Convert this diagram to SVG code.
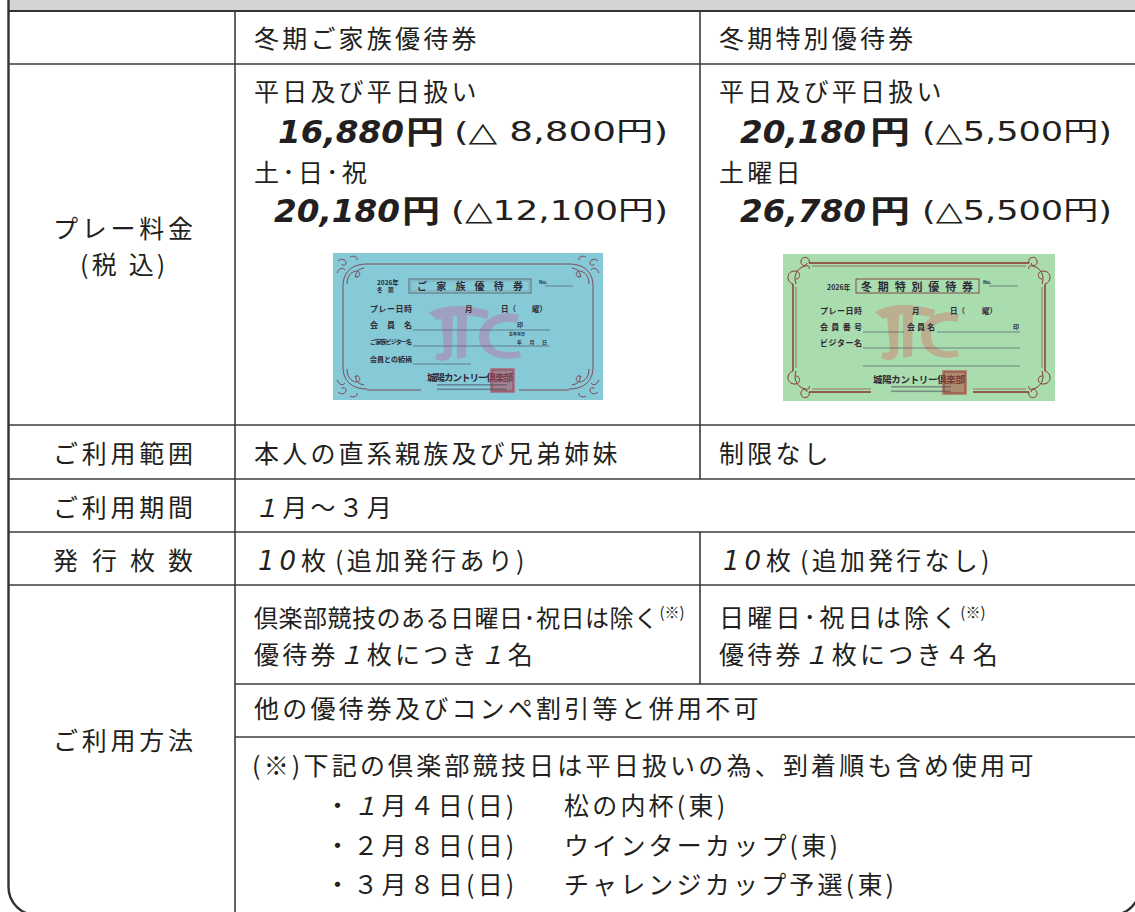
<svg xmlns="http://www.w3.org/2000/svg" width="1135" height="912" viewBox="0 0 1135 912">
<style>
.ln{stroke:#3c3c3c;stroke-width:1.6;fill:none}
.t{font-family:"Noto Sans CJK JP","Noto Sans CJK SC",sans-serif;font-size:25px;letter-spacing:3.2px;fill:#231f20}
.lab{font-family:"Noto Sans CJK JP","Noto Sans CJK SC",sans-serif;font-size:25px;letter-spacing:3.75px;fill:#231f20}
.big{font-family:"DejaVu Sans",sans-serif;font-weight:bold;font-style:oblique;font-size:32px;fill:#231f20}
.yen{font-family:"Noto Sans CJK JP",sans-serif;font-weight:bold;font-size:31px;fill:#231f20}
.par{font-family:"DejaVu Sans","Noto Sans CJK JP",sans-serif;font-size:27px;fill:#231f20}
.sup{font-size:15px;letter-spacing:0}
.it{font-style:italic}
.dg{font-family:"DejaVu Sans",sans-serif;font-style:oblique;font-size:26px;letter-spacing:5px}
.gap{letter-spacing:9px}
.tight{font-size:24px;letter-spacing:0.5px}
.c{font-family:"Noto Sans CJK JP","Noto Sans CJK SC",sans-serif;font-weight:bold;fill:#2e2a35}
.ul{stroke:#4a4a55;stroke-width:0.6;fill:none}
.ob{stroke:#7d3a48;stroke-width:0.9;fill:none}
.og{stroke:#8a3428;stroke-width:1;fill:none}
</style>
<defs>
<g id="ornB">
<path d="M10 33 C10 20 18 11 34 11"/>
<path d="M14 31 c0 -8 4 -12 9 -13 c4 0 5 4 2 6 c-2 1 -4 -1 -2 -2"/>
<path d="M31 15 c-6 1 -9 5 -8 9"/>
<path d="M5 8 c3 -3 8 -2 8 2 c0 3 -4 3 -4 1"/>
<path d="M4 20 c2 -5 6 -6 8 -3 M17 4 c4 -2 8 0 7 3"/>
</g>
<g id="ornG">
<path d="M10 30 C3 28 3 17 12 17 C18 17 18 25 13 25"/>
<path d="M26 9 C28 3 19 1 18 7 C17 12 24 13 24 9"/>
<path d="M13 30 C10 22 14 14 22 12 C26 11 27 13 26 15"/>
</g>
</defs>

<g id="frame">
<path d="M8.5 -30 H1140 V11 H8.5 Z" fill="#d4d4d6"/>
<rect x="8.5" y="-30" width="1131.5" height="945" rx="28" fill="none" stroke="#333" stroke-width="2.4"/>
<path d="M8.5 11 H1140" stroke="#333" stroke-width="2"/>
</g>

<g id="connectors">
<path class="ln" d="M8.5 64 H1136 M8.5 425 H1136 M8.5 479 H1136 M8.5 532 H1136 M8.5 585 H1136 M235 684 H1136 M235 737 H1136"/>
<path class="ln" d="M235 11 V912 M700 11 V479 M700 532 V684"/>
</g>

<g id="header">
<text class="t" x="254" y="47.5">冬期ご家族優待券</text>
<text class="t" x="719" y="47.5">冬期特別優待券</text>
</g>

<g id="row-price-label">
<text class="lab" x="53" y="238">プレー料金</text>
<text class="t" x="80" y="274">(税 込)</text>
</g>

<g id="price-family">
<text class="t" x="254" y="100.5">平日及び平日扱い</text>
<text class="big" x="278" y="143" textLength="126" lengthAdjust="spacingAndGlyphs">16,880</text>
<text class="yen" x="406" y="143" textLength="38" lengthAdjust="spacingAndGlyphs">円</text>
<text class="par" x="454" y="141" textLength="214" lengthAdjust="spacingAndGlyphs">(△  8,800円)</text>
<text class="t" x="254" y="182">土･日･祝</text>
<text class="big" x="274" y="222" textLength="126" lengthAdjust="spacingAndGlyphs">20,180</text>
<text class="yen" x="402" y="222" textLength="38" lengthAdjust="spacingAndGlyphs">円</text>
<text class="par" x="451" y="220" textLength="217" lengthAdjust="spacingAndGlyphs">(△12,100円)</text>
</g>

<g id="price-special">
<text class="t" x="719" y="100.5">平日及び平日扱い</text>
<text class="big" x="740" y="143" textLength="126" lengthAdjust="spacingAndGlyphs">20,180</text>
<text class="yen" x="870" y="143" textLength="40" lengthAdjust="spacingAndGlyphs">円</text>
<text class="par" x="922" y="141" textLength="190" lengthAdjust="spacingAndGlyphs">(△5,500円)</text>
<text class="t" x="719" y="182">土曜日</text>
<text class="big" x="740" y="222" textLength="126" lengthAdjust="spacingAndGlyphs">26,780</text>
<text class="yen" x="870" y="222" textLength="40" lengthAdjust="spacingAndGlyphs">円</text>
<text class="par" x="922" y="220" textLength="190" lengthAdjust="spacingAndGlyphs">(△5,500円)</text>
</g>

<g id="card-blue" transform="translate(333,253)">
<rect width="270" height="147" fill="#86c9d7"/>
<g fill="#a596bd" opacity="0.8">
<path d="M96 60 C112 50 138 52 156 58 L154 66 C138 61 118 61 104 67 Z"/>
<path d="M108 64 L120 62 L119 100 C118 108 110 110 102 106 L104 100 C109 102 111 100 111 96 Z"/>
<path d="M124 62 L134 61 L133 104 L124 106 Z"/>
<path d="M186 62 C168 56 146 66 146 84 C146 100 166 110 188 104 L186 98 C170 102 156 96 156 84 C156 72 170 66 184 70 Z"/>
</g>
<g class="ob">
<path d="M34 11 H236 M34 137 H88 M186 137 H236 M10 33 V114 M260 33 V114"/>
<use href="#ornB"/>
<use href="#ornB" transform="translate(270,0) scale(-1,1)"/>
<use href="#ornB" transform="translate(0,147) scale(1,-1)"/>
<use href="#ornB" transform="translate(270,147) scale(-1,-1)"/>
</g>
<text class="c" x="44" y="32" font-size="6.5">2026年</text>
<text class="c" x="44" y="38.5" font-size="5.5">冬　期</text>
<rect x="76" y="26" width="122" height="14" fill="none" stroke="#555" stroke-width="0.8"/>
<rect x="78" y="28" width="118" height="10" fill="none" stroke="#777" stroke-width="0.4"/>
<text class="c" x="84" y="37" font-size="10" textLength="106">ご 家 族 優 待 券</text>
<text class="c" x="206" y="31" font-size="5">No.</text>
<path class="ul" d="M212 33 H240"/>
<text class="c" x="37" y="59" font-size="8" textLength="42">プレー日時</text>
<text class="c" x="132" y="59" font-size="7.5">月</text>
<text class="c" x="168" y="59" font-size="7.5">日（</text>
<text class="c" x="199" y="59" font-size="7.5">曜）</text>
<text class="c" x="37" y="75" font-size="8" textLength="42">会　員　名</text>
<path class="ul" d="M80 77 H217"/>
<text class="c" x="184" y="74" font-size="6">印</text>
<text class="c" x="176" y="83" font-size="4">生年月日</text>
<text class="c" x="37" y="91" font-size="6" textLength="42">ご家族ビジター名</text>
<path class="ul" d="M80 93 H217"/>
<text class="c" x="184" y="91" font-size="5" textLength="30">年　月　日</text>
<text class="c" x="37" y="109" font-size="7" textLength="42">会員との続柄</text>
<path class="ul" d="M80 111 H138"/>
<text class="c" x="94" y="128" font-size="9.5" textLength="86">城陽カントリー倶楽部</text>
<rect x="157" y="115" width="25" height="25" fill="#b5485a" opacity="0.55"/>
<rect x="159" y="117" width="21" height="21" fill="none" stroke="#9a2a3a" stroke-width="0.7"/>
<rect x="104" y="131" width="70" height="1.6" fill="#445" opacity="0.5"/>
<rect x="104" y="135.5" width="70" height="1.6" fill="#445" opacity="0.5"/>
</g>

<g id="card-green" transform="translate(783,254)">
<rect width="272" height="147" fill="#a9dcaf"/>
<g fill="#bfa88a" opacity="0.85">
<path d="M92 58 C108 48 134 50 152 56 L150 64 C134 59 114 59 100 65 Z"/>
<path d="M104 62 L116 60 L115 98 C114 106 106 108 98 104 L100 98 C105 100 107 98 107 94 Z"/>
<path d="M120 60 L130 59 L129 102 L120 104 Z"/>
<path d="M176 60 C158 54 138 64 138 82 C138 98 156 108 176 102 L174 96 C160 100 148 94 148 82 C148 70 160 64 174 68 Z"/>
</g>
<g class="og">
<path d="M26 9 H246 M26 138 H88 M190 138 H246 M10 30 V117 M262 30 V117" stroke-width="1.4"/>
<path d="M29 12 H243 M29 135 H88 M190 135 H243 M13 33 V114 M259 33 V114" stroke-width="0.6"/>
<use href="#ornG"/>
<use href="#ornG" transform="translate(272,0) scale(-1,1)"/>
<use href="#ornG" transform="translate(0,147) scale(1,-1)"/>
<use href="#ornG" transform="translate(272,147) scale(-1,-1)"/>
</g>
<text class="c" x="44" y="36" font-size="7">2026年</text>
<rect x="73" y="25" width="123" height="14" fill="none" stroke="#7a2a2a" stroke-width="0.8"/>
<text class="c" x="78" y="37" font-size="11" textLength="112" fill="#8a2a2a">冬 期 特 別 優 待 券</text>
<text class="c" x="200" y="30" font-size="5">No.</text>
<path class="ul" d="M206 32 H235"/>
<text class="c" x="37" y="60" font-size="8" textLength="42">プレー日時</text>
<text class="c" x="129" y="60" font-size="7.5">月</text>
<text class="c" x="167" y="60" font-size="7.5">日（</text>
<text class="c" x="199" y="60" font-size="7.5">曜）</text>
<text class="c" x="37" y="76" font-size="8" textLength="42">会員番号</text>
<path class="ul" d="M80 78 H121"/>
<text class="c" x="124" y="76" font-size="8" textLength="28">会員名</text>
<path class="ul" d="M154 78 H237"/>
<text class="c" x="230" y="75" font-size="6">印</text>
<text class="c" x="37" y="92" font-size="8" textLength="42">ビジター名</text>
<path class="ul" d="M80 94 H237 M80 112 H237"/>
<text class="c" x="90" y="129" font-size="9.5" textLength="92">城陽カントリー倶楽部</text>
<rect x="159" y="116" width="25" height="25" fill="#b04a3a" opacity="0.55"/>
<rect x="161" y="118" width="21" height="21" fill="none" stroke="#8a2a2a" stroke-width="0.7"/>
<rect x="108" y="132" width="60" height="1.6" fill="#445" opacity="0.5"/>
<rect x="108" y="136.5" width="60" height="1.6" fill="#445" opacity="0.5"/>
</g>

<g id="row-range">
<text class="lab" x="53" y="462.5">ご利用範囲</text>
<text class="t" x="254" y="462.5">本人の直系親族及び兄弟姉妹</text>
<text class="t" x="719" y="462.5">制限なし</text>
</g>

<g id="row-period">
<text class="lab" x="53" y="516.5">ご利用期間</text>
<text class="t" x="254" y="516.5"><tspan class="it">１</tspan>月〜３月</text>
</g>

<g id="row-count">
<text class="lab" x="53 91 92 129 130 167 168" y="569.5">発 行 枚 数</text>
<text class="t" x="258" y="569.5"><tspan class="dg">10</tspan><tspan class="gap">枚</tspan>(追加発行あり)</text>
<text class="t" x="723" y="569.5"><tspan class="dg">10</tspan><tspan class="gap">枚</tspan>(追加発行なし)</text>
</g>

<g id="row-usage">
<text class="lab" x="53" y="749.5">ご利用方法</text>
<text class="t tight" x="254" y="627">倶楽部競技のある日曜日･祝日は除く<tspan class="sup" dx="1" dy="-9">(※)</tspan></text>
<text class="t" x="254" y="664">優待券<tspan class="it">１</tspan>枚につき<tspan class="it">１</tspan>名</text>
<text class="t" x="719" y="627">日曜日･祝日は除く<tspan class="sup" dy="-9">(※)</tspan></text>
<text class="t" x="719" y="664">優待券<tspan class="it">１</tspan>枚につき４名</text>
<text class="t" x="254" y="717.5">他の優待券及びコンペ割引等と併用不可</text>
<text class="t" x="252" y="774.5">(※)下記の倶楽部競技日は平日扱いの為、到着順も含め使用可</text>
<text class="t" x="325" y="814.5">・<tspan class="it">１</tspan>月４日(日)</text>
<text class="t" x="564" y="814.5">松の内杯(東)</text>
<text class="t" x="325" y="854.5">・２月８日(日)</text>
<text class="t" x="564" y="854.5">ウインターカップ(東)</text>
<text class="t" x="325" y="893.5">・３月８日(日)</text>
<text class="t" x="564" y="893.5">チャレンジカップ予選(東)</text>
</g>
</svg>
